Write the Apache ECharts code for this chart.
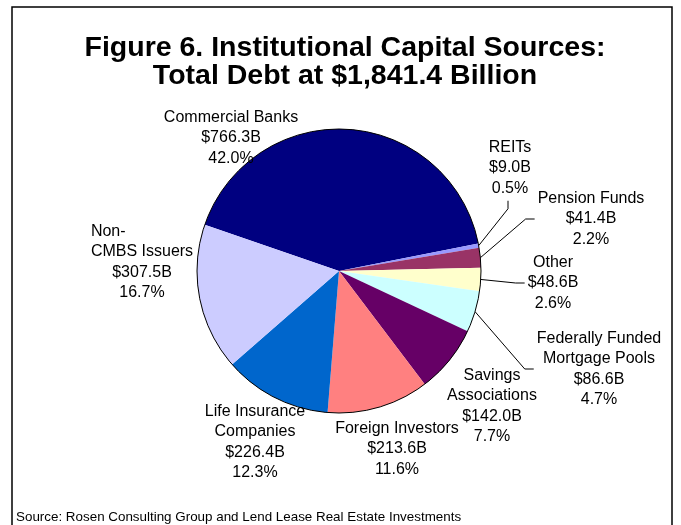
<!DOCTYPE html>
<html>
<head>
<meta charset="utf-8">
<script src="https://cdn.jsdelivr.net/npm/echarts@6/dist/echarts.min.js"></script>
<style>
  html, body { margin: 0; padding: 0; background: #ffffff; }
  #chart { width: 681px; height: 525px; }
</style>
</head>
<body>
<div id="chart"></div>
<script>
// Sources of commercial real estate debt, billions of dollars
const categories = [
  'Commercial Banks',
  'REITs',
  'Pension Funds',
  'Other',
  'Federally Funded\nMortgage Pools',
  'Savings\nAssociations',
  'Foreign Investors',
  'Life Insurance\nCompanies',
  'Non-\nCMBS Issuers'
];
const debtBillions = [766.3, 9.0, 41.4, 48.6, 86.6, 142.0, 213.6, 226.4, 307.5];
const sharePercent = [42.0, 0.5, 2.2, 2.6, 4.7, 7.7, 11.6, 12.3, 16.7];

const sliceColors = ['#000080', '#9999FF', '#993366', '#FFFFCC', '#CCFFFF',
                     '#660066', '#FF8080', '#0066CC', '#CCCCFF'];

// Centre of each label block, and how its leader line attaches (none / below / left)
const labelSpots = [[231, 138], [510, 168], [591, 219], [553, 283], [599, 369],
                    [492, 406], [397, 449], [255, 442], [142, 262]];
const leaderKind = [null, 'below', 'left', 'left', 'left', null, null, null, null];

const FONT = '"Liberation Sans", Arial, sans-serif';
const PIE_CENTER = [339, 271];
const PIE_RADIUS = 142;

const chart = echarts.init(document.getElementById('chart'), null, { renderer: 'canvas' });

chart.setOption({
  backgroundColor: '#ffffff',
  animation: false,
  title: [
    {
      text: 'Figure 6. Institutional Capital Sources:\nTotal Debt at $1,841.4 Billion',
      left: 345,
      top: 34,
      padding: 0,
      textAlign: 'center',
      textStyle: { fontFamily: FONT, fontSize: 28.5, fontWeight: 'bold', lineHeight: 28, color: '#000' }
    },
    {
      text: 'Source: Rosen Consulting Group and Lend Lease Real Estate Investments',
      left: 16,
      top: 510,
      padding: 0,
      textStyle: { fontFamily: FONT, fontSize: 13.4, fontWeight: 'normal', lineHeight: 14, color: '#000' }
    }
  ],
  graphic: [
    {
      type: 'rect',
      silent: true,
      z: -10,
      shape: { x: 12, y: 7, width: 660, height: 540 },
      style: { fill: 'none', stroke: '#000', lineWidth: 1.5 }
    }
  ],
  series: [
    {
      type: 'pie',
      center: PIE_CENTER,
      radius: PIE_RADIUS,
      startAngle: 161,
      clockwise: true,
      avoidLabelOverlap: false,
      silent: true,
      emphasis: { disabled: true },
      data: categories.map((name, i) => ({
        name: name,
        value: debtBillions[i],
        itemStyle: { color: sliceColors[i] },
        labelLine: { show: !!leaderKind[i] }
      })),
      label: {
        show: true,
        position: 'outside',
        fontFamily: FONT,
        fontSize: 16,
        lineHeight: 20.5,
        color: '#000',
        formatter: (p) => {
          const lines = p.name.split('\n').map(l => l.endsWith('-') ? '{lead|' + l + '}' : l);
          lines.push('$' + debtBillions[p.dataIndex].toFixed(1) + 'B');
          lines.push(sharePercent[p.dataIndex].toFixed(1) + '%');
          return lines.join('\n');
        },
        rich: {
          lead: { align: 'left', fontFamily: FONT, fontSize: 16, lineHeight: 20.5, color: '#000' }
        }
      },
      labelLine: {
        show: false,
        length: 10,
        length2: 10,
        lineStyle: { color: '#000', width: 1 }
      },
      labelLayout: (params) => {
        const i = params.dataIndex;
        const x = labelSpots[i][0];
        const y = labelSpots[i][1];
        const w = params.labelRect.width;
        const h = params.labelRect.height;
        const out = { x: x, y: y, align: 'center', verticalAlign: 'middle' };
        const kind = leaderKind[i];
        if (kind && params.labelLinePoints) {
          const start = params.labelLinePoints[0];
          let elbow, end;
          if (kind === 'below') {
            end = [x - 2, y + h / 2 + 2];
            elbow = [x - 2, y + h / 2 + 10];
          } else {
            end = [x - w / 2 - 3, y];
            elbow = [end[0] - 9, y];
          }
          out.labelLinePoints = [start, elbow, end];
        }
        return out;
      }
    },
    {
      // dark rim around the whole pie
      type: 'pie',
      center: PIE_CENTER,
      radius: PIE_RADIUS,
      silent: true,
      z: 3,
      emphasis: { disabled: true },
      label: { show: false },
      labelLine: { show: false },
      itemStyle: { color: 'rgba(0,0,0,0)', borderColor: '#000', borderWidth: 1 },
      data: [{ name: 'rim', value: 1 }]
    }
  ]
});
</script>
</body>
</html>
